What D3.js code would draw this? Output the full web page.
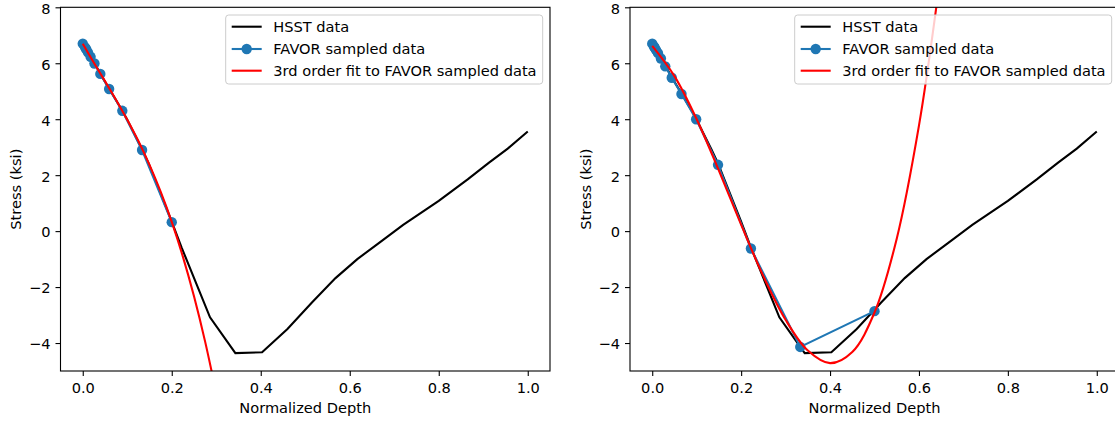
<!DOCTYPE html>
<html>
<head>
<meta charset="utf-8">
<script src="https://cdn.jsdelivr.net/npm/d3@7"></script>
<style>
body { margin: 0; background: #fff; }
svg text { font-family: "DejaVu Sans", sans-serif; }
</style>
</head>
<body>
<div id="chart"></div>
<script>
// HSST stress profile (same in both panels)
const hsstDepth = [0, 0.013, 0.0293, 0.0439, 0.0658, 0.0889, 0.0988, 0.1333, 0.148, 0.2, 0.222, 0.286, 0.343, 0.403, 0.46, 0.515, 0.568, 0.617, 0.666, 0.72, 0.80, 0.865, 0.913, 0.955, 1.0];
const hsstStress = [6.71, 6.37, 5.92, 5.50, 4.92, 4.30, 4.02, 2.92, 2.42, 0.34, -0.58, -3.08, -4.36, -4.33, -3.50, -2.55, -1.68, -1.00, -0.42, 0.22, 1.08, 1.85, 2.45, 2.95, 3.56];

// left panel: FAVOR samples up to 0.2
const favorDepthLeft = [0, 0.0052, 0.0078, 0.0117, 0.0176, 0.0263, 0.0395, 0.0593, 0.0889, 0.1333, 0.2];
const favorStressLeft = [6.70, 6.57, 6.50, 6.39, 6.23, 5.99, 5.62, 5.08, 4.30, 2.90, 0.32];
const fitDepthLeft = [0, 0.025, 0.05, 0.075, 0.1, 0.125, 0.15, 0.175, 0.2, 0.225, 0.25, 0.275, 0.3];
const fitStressLeft = [6.70, 6.02, 5.36, 4.69, 3.98, 3.22, 2.37, 1.41, 0.33, -0.91, -2.33, -3.95, -5.80];

// right panel: FAVOR samples up to 0.5
const favorDepthRight = [0, 0.0039, 0.0058, 0.0087, 0.013, 0.0195, 0.0293, 0.0439, 0.0658, 0.0988, 0.148, 0.222, 0.333, 0.5];
const favorStressRight = [6.70, 6.60, 6.55, 6.47, 6.36, 6.17, 5.89, 5.48, 4.90, 4.00, 2.37, -0.62, -4.14, -2.86];
const fitDepthRight = [0, 0.05, 0.1, 0.15, 0.2, 0.25, 0.3, 0.35, 0.4, 0.45, 0.5, 0.55, 0.6, 0.64];
const fitStressRight = [6.62, 5.54, 4.00, 2.16, 0.23, -1.61, -3.17, -4.27, -4.72, -4.32, -2.91, -0.27, 3.77, 8.12];

const xTicks = [0, 0.2, 0.4, 0.6, 0.8, 1.0];
const yTicks = [-4, -2, 0, 2, 4, 6, 8];
const legendLabels = ["HSST data", "FAVOR sampled data", "3rd order fit to FAVOR sampled data"];

const colours = {hsst: "#000000", favor: "#1f77b4", fit: "#ff0000"};
const fontSize = 14.6;

const zip = (xs, ys) => xs.map((x, i) => ({x: x, y: ys[i]}));

class Panel {
	constructor(svg, id, box, favor, fit) {
		this.svg = svg;
		this.id = id;
		this.box = box;
		this.hsst = zip(hsstDepth, hsstStress);
		this.favor = favor;
		this.fit = fit;
		this.xScale = d3.scaleLinear().domain([-0.05, 1.05]).range([box.left, box.right]);
		this.yScale = d3.scaleLinear().domain([-5, 8]).range([box.bottom, box.top]);
		this.element = svg.append("g").attr("class", "panel");
	}

	draw() {
		let g = this.element;
		let b = this.box;

		g.append("clipPath")
			.attr("id", `clip-${this.id}`)
			.append("rect")
			.attr("x", b.left)
			.attr("y", b.top)
			.attr("width", b.right - b.left)
			.attr("height", b.bottom - b.top);

		let line = d3.line()
			.x(d => this.xScale(d.x))
			.y(d => this.yScale(d.y));
		let smooth = d3.line()
			.x(d => this.xScale(d.x))
			.y(d => this.yScale(d.y))
			.curve(d3.curveCatmullRom);

		let plot = g.append("g").attr("clip-path", `url(#clip-${this.id})`);

		plot.append("path")
			.attr("d", line(this.hsst))
			.attr("fill", "none")
			.attr("stroke", colours.hsst)
			.attr("stroke-width", 2.1);

		plot.append("path")
			.attr("d", line(this.favor))
			.attr("fill", "none")
			.attr("stroke", colours.favor)
			.attr("stroke-width", 2.1);

		plot.selectAll("circle")
			.data(this.favor)
			.join("circle")
			.attr("cx", d => this.xScale(d.x))
			.attr("cy", d => this.yScale(d.y))
			.attr("r", 5.2)
			.attr("fill", colours.favor);

		plot.append("path")
			.attr("d", smooth(this.fit))
			.attr("fill", "none")
			.attr("stroke", colours.fit)
			.attr("stroke-width", 2.1);

		let xAxis = g.append("g")
			.attr("transform", `translate(0, ${b.bottom})`)
			.call(d3.axisBottom(this.xScale).tickValues(xTicks).tickFormat(d3.format(".1f"))
				.tickSize(5).tickSizeOuter(0).tickPadding(6.5));
		let yAxis = g.append("g")
			.attr("transform", `translate(${b.left}, 0)`)
			.call(d3.axisLeft(this.yScale).tickValues(yTicks).tickFormat(d3.format("d"))
				.tickSize(5).tickSizeOuter(0).tickPadding(5));
		yAxis.selectAll("text").attr("dy", "0.4em");
		[xAxis, yAxis].forEach(a => {
			a.select(".domain").remove();
			a.selectAll("text").attr("font-size", fontSize).attr("font-family", "DejaVu Sans").attr("fill", "#000");
			a.selectAll("line").attr("stroke", "#000").attr("stroke-width", 1.1);
		});

		g.append("rect")
			.attr("x", b.left)
			.attr("y", b.top)
			.attr("width", b.right - b.left)
			.attr("height", b.bottom - b.top)
			.attr("fill", "none")
			.attr("stroke", "#000")
			.attr("stroke-width", 1.1);

		g.append("text")
			.attr("x", (b.left + b.right) / 2)
			.attr("y", 412.5)
			.attr("text-anchor", "middle")
			.attr("font-size", fontSize)
			.text("Normalized Depth");

		g.append("text")
			.attr("transform", `translate(${b.left - 39.5}, ${(b.top + b.bottom) / 2}) rotate(-90)`)
			.attr("text-anchor", "middle")
			.attr("font-size", fontSize)
			.text("Stress (ksi)");

		this.drawLegend();
	}

	drawLegend() {
		let b = this.box;
		let lx = b.right - 7.3 - 317;
		let ly = b.top + 7.7;
		let legend = this.element.append("g")
			.attr("class", "legend")
			.attr("transform", `translate(${lx}, ${ly})`);

		legend.append("rect")
			.attr("width", 317)
			.attr("height", 69)
			.attr("rx", 3)
			.attr("fill", "#fff")
			.attr("fill-opacity", 0.8)
			.attr("stroke", "#cccccc")
			.attr("stroke-width", 1);

		let rowY = [11.7, 34, 55.7];
		let keys = ["hsst", "favor", "fit"];
		let items = legend.selectAll(".legend-item")
			.data(legendLabels)
			.join("g")
			.attr("class", "legend-item")
			.attr("transform", (d, i) => `translate(0, ${rowY[i]})`);

		items.append("line")
			.attr("x1", 6)
			.attr("x2", 36)
			.attr("stroke", (d, i) => colours[keys[i]])
			.attr("stroke-width", 2.1);

		items.filter((d, i) => i === 1)
			.append("circle")
			.attr("cx", 21)
			.attr("r", 5.2)
			.attr("fill", colours.favor);

		items.append("text")
			.attr("x", 47.6)
			.attr("dy", "0.35em")
			.attr("font-size", fontSize)
			.text(d => d);
	}
}

const svg = d3.select("#chart").append("svg")
	.attr("width", 1115)
	.attr("height", 421)
	.style("display", "block");

const leftPanel = new Panel(svg, "left",
	{left: 60.5, right: 550, top: 7.3, bottom: 371},
	zip(favorDepthLeft, favorStressLeft), zip(fitDepthLeft, fitStressLeft));
const rightPanel = new Panel(svg, "right",
	{left: 630, right: 1119, top: 7.3, bottom: 371},
	zip(favorDepthRight, favorStressRight), zip(fitDepthRight, fitStressRight));

leftPanel.draw();
rightPanel.draw();
</script>
</body>
</html>
